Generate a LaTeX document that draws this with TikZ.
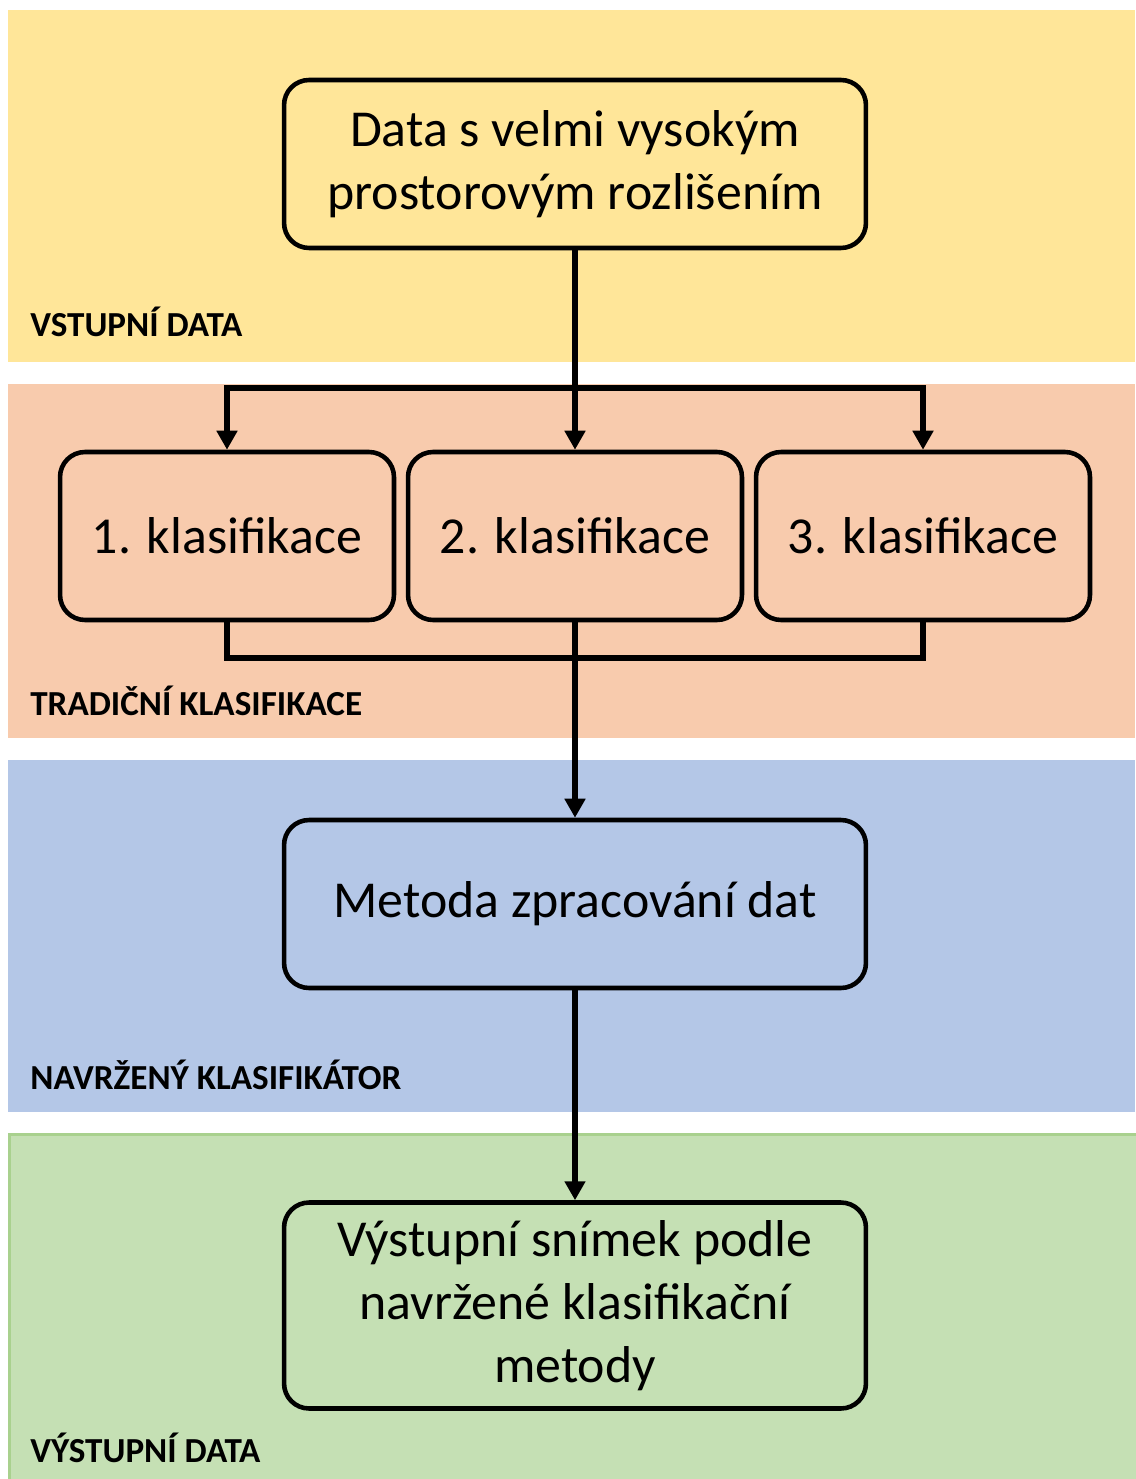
\documentclass[tikz,border=0pt]{standalone}
\usepackage{fontspec}
\setmainfont{Carlito}
\usetikzlibrary{arrows.meta}

\definecolor{bandYellow}{HTML}{FFE699}
\definecolor{bandSalmon}{HTML}{F8CBAD}
\definecolor{bandBlue}{HTML}{B4C7E7}
\definecolor{bandGreen}{HTML}{C5E0B4}
\definecolor{edgeGreen}{HTML}{A9D18E}

\begin{document}
\begin{tikzpicture}
[x=0.02cm,y=-0.02cm,
  lineDecorate/.style={-,line width=3.2pt},%
  arrowDecorate/.style={-{Triangle[width=0.4cm,length=0.38cm]},line width=3.2pt},%
  boxDecorate/.style={shape=rectangle,rounded corners=0.5cm,draw,line width=2.6pt,
    align=center,font=\fontsize{29.5}{36}\selectfont,inner sep=0pt},%
  bandLabel/.style={anchor=base west,inner sep=0pt,font=\fontsize{20}{24}\selectfont\bfseries}]
\useasboundingbox (0,0) rectangle (1135,1479);
%% bands
\fill[bandYellow] (8,10) rectangle (1135,362);
\fill[bandSalmon] (8,384) rectangle (1135,738);
\fill[bandBlue] (8,760) rectangle (1135,1112);
\filldraw[fill=bandGreen,draw=edgeGreen,line width=1.5pt] (9.5,1134.5) rectangle (1145,1490);
%% band labels
\foreach \labelname/\y/\txt in {
  lin/337/VSTUPNÍ DATA, ltrad/715/TRADIČNÍ KLASIFIKACE,
  lnav/1089/NAVRŽENÝ KLASIFIKÁTOR, lout/1462/VÝSTUPNÍ DATA}
{
  \node (\labelname) at (30,\y) [bandLabel] {\txt};
}
%% boxes
\node (data) at (575,164) [boxDecorate,fill=bandYellow,minimum width=11.64cm,minimum height=3.36cm]
  {Data s velmi vysokým\\prostorovým rozlišením};
\foreach \nodename/\x/\txt in {
  k1/227/1. klasifikace, k2/575/2. klasifikace, k3/923/3. klasifikace}
{
  \node (\nodename) at (\x,536) [boxDecorate,fill=bandSalmon,minimum width=6.68cm,minimum height=3.36cm] {\txt};
}
\node (metoda) at (575,904) [boxDecorate,fill=bandBlue,minimum width=11.64cm,minimum height=3.36cm]
  {Metoda zpracování dat};
\node (vystup) at (575,1305.5) [boxDecorate,fill=bandGreen,minimum width=11.64cm,minimum height=4.12cm]
  {Výstupní snímek podle\\navržené klasifikační\\metody};
%% connectors
\coordinate (split) at (575,388);
\coordinate (join) at (575,658);
\draw[lineDecorate] (data.south) -- (split);
\foreach \endnode in {k1,k2,k3}
{
  \draw[arrowDecorate] (split) -| (\endnode.north);
}
\draw[lineDecorate] (k1.south) |- (join) -| (k3.south);
\path
\foreach \startnode/\endnode in {k2/metoda, metoda/vystup}
{
  (\startnode.south) edge[arrowDecorate] (\endnode.north)
};
\end{tikzpicture}
\end{document}
